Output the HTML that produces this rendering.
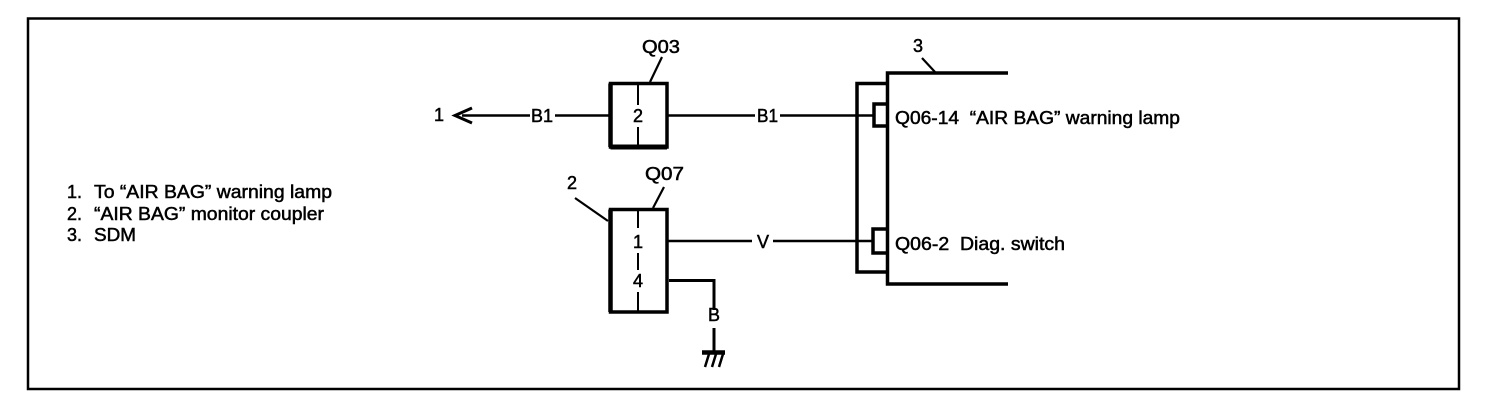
<!DOCTYPE html>
<html><head><meta charset="utf-8"><style>
html,body{margin:0;padding:0;background:#fff}
svg{display:block}
text{font-family:"Liberation Sans",sans-serif;font-size:18px;fill:#000;stroke:#000;stroke-width:.5px}
.c{text-anchor:middle}
</style></head><body>
<svg width="1504" height="410" viewBox="0 0 1504 410" xmlns="http://www.w3.org/2000/svg">
<rect width="1504" height="410" fill="#fff"/>
<rect x="28" y="18.500" width="1431" height="370.500" fill="none" stroke="#000" stroke-width="2.500"/>
<g fill="none" stroke="#000" stroke-width="2.500">
<path d="M530 115.500H462"/>
<path d="M555 115.500H609M668 115.500H755M780 115.500H873M668 241H752M773 241H872"/>
<path d="M669 280.500H714V310M714 328V352" stroke-width="3"/>
<path d="M662 57L650 82M664 187L653 208M575 198L608 221M922 58L935 72" stroke-width="2.200"/>
<path d="M472 108L455 115.500L472 123" stroke-width="3"/>
<path d="M638 82V105M638 127V148M638 208V228M638 253V270M638 292V311" stroke-width="2"/>
</g>
<g fill="none" stroke="#000" stroke-width="3.500">
<path d="M610.500 83.500H667V147H610.500Z" stroke-width="3.500"/>
<path d="M610.500 147H667" stroke-width="5"/>
<path d="M610.500 83.500V147" stroke-width="4.500"/>
<path d="M610.500 209.500H667V312H610.500Z" stroke-width="3.500"/>
<path d="M610.500 209.500V312" stroke-width="4.500"/>
<path d="M1008 73H887.500V284H1008"/>
<path d="M887 83.500H857V272H887"/>
<path d="M887 104H874V126H887"/>
<path d="M887 229H873V253H887"/>
<path d="M702 352.500H725" stroke-width="4.500"/>
</g>
<path d="M709 354L705 367M716 354L712 367M723 354L719 367" fill="none" stroke="#000" stroke-width="2.500"/>
<text x="434" y="121">1</text>
<text x="531" y="122" textLength="22" lengthAdjust="spacingAndGlyphs">B1</text>
<text x="757" y="122" textLength="21" lengthAdjust="spacingAndGlyphs">B1</text>
<text x="638" y="122" class="c">2</text>
<text x="642" y="53" textLength="38" lengthAdjust="spacingAndGlyphs">Q03</text>
<text x="645" y="180" textLength="39" lengthAdjust="spacingAndGlyphs">Q07</text>
<text x="567" y="189">2</text>
<text x="913" y="52">3</text>
<text x="638" y="248" class="c">1</text>
<text x="638" y="287" class="c">4</text>
<text x="763" y="248" class="c">V</text>
<text x="714" y="321" class="c">B</text>
<text x="895" y="124" textLength="285" lengthAdjust="spacingAndGlyphs" xml:space="preserve">Q06-14  “AIR BAG” warning lamp</text>
<text x="895" y="250" textLength="170" lengthAdjust="spacingAndGlyphs" xml:space="preserve">Q06-2  Diag. switch</text>
<text x="67" y="198">1.</text>
<text x="67" y="220">2.</text>
<text x="67" y="241">3.</text>
<text x="94" y="198" textLength="238" lengthAdjust="spacingAndGlyphs">To “AIR BAG” warning lamp</text>
<text x="94" y="220" textLength="230" lengthAdjust="spacingAndGlyphs">“AIR BAG” monitor coupler</text>
<text x="94" y="241" textLength="42" lengthAdjust="spacingAndGlyphs">SDM</text>
</svg>
</body></html>
